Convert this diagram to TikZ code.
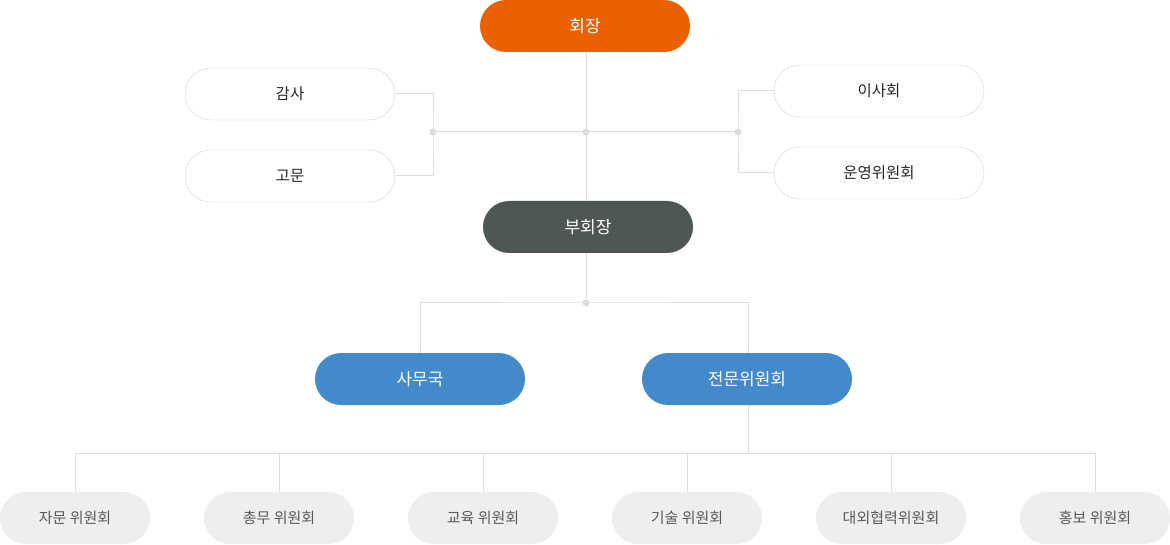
\documentclass[tikz,border=0pt]{standalone}
\usepackage{fontspec}
\setmainfont{Noto Sans CJK KR}
\usepackage{tikz}

\definecolor{chairorange}{HTML}{EB6100}
\definecolor{vicegray}{HTML}{4F5656}
\definecolor{teamblue}{HTML}{438ACB}
\definecolor{subgray}{HTML}{EEEEEE}
\definecolor{edgegray}{HTML}{D2D2D2}
\definecolor{linegray}{HTML}{DDDDDD}

\tikzset{
  box/.style={rounded corners=26pt, minimum width=210pt, minimum height=52pt, inner sep=0pt, font=\fontsize{17}{19}\selectfont},
  headbox/.style={box, fill=#1, text=white},
  sidebox/.style={box, draw=edgegray, fill=white, text=black!85, font=\fontsize{15.5}{18}\selectfont},
  subbox/.style={box, minimum width=150pt, fill=subgray, text=black!65, font=\fontsize{15}{17}\selectfont},
  link/.style={draw=linegray, line width=1pt},
  joint/.style={fill=linegray}
}

\begin{document}
\begin{tikzpicture}[x=1pt, y=-1pt]
            \useasboundingbox (0,0) rectangle (1170,545);

            % junctions
            \coordinate (jtop) at (586,132);
            \coordinate (jleft) at (433,132);
            \coordinate (jright) at (738,132);
            \coordinate (jmid) at (586,303);
            \coordinate (jlow) at (748,453);

            % nodes
            \node[headbox=chairorange] (chair) at (585,26) {회장};
            \node[sidebox] (audit) at (290,94) {감사};
            \node[sidebox] (advisor) at (290,176) {고문};
            \node[sidebox] (board) at (879,91) {이사회};
            \node[sidebox] (steering) at (879,173) {운영위원회};
            \node[headbox=vicegray] (vice) at (588,227) {부회장};
            \node[headbox=teamblue] (office) at (420,379) {사무국};
            \node[headbox=teamblue] (expert) at (747,379) {전문위원회};

            \node[subbox] (consult) at (75,518) {자문 위원회};
            \node[subbox] (general) at (279,518) {총무 위원회};
            \node[subbox] (education) at (483,518) {교육 위원회};
            \node[subbox] (technical) at (687,518) {기술 위원회};
            \node[subbox] (external) at (891,518) {대외협력위원회};
            \node[subbox] (promotion) at (1095,518) {홍보 위원회};

            % links
            \draw[link] (chair.south -| jtop) -- (vice.north -| jtop);
            \draw[link] (jleft) -- (jright);
            \draw[link] (audit.east) -| (jleft) |- (advisor.east);
            \draw[link] (board.west) -| (jright) |- (steering.west);

            \draw[link] (vice.south -| jmid) -- (jmid);
            \draw[link] (office.north) |- (jmid) -| (expert.north -| jlow);
            \draw[link] (expert.south -| jlow) -- (jlow);

            \draw[link] (consult.north) |- (jlow);
            \draw[link] (general.north) |- (jlow);
            \draw[link] (education.north) |- (jlow);
            \draw[link] (technical.north) |- (jlow);
            \draw[link] (external.north) |- (jlow);
            \draw[link] (promotion.north) |- (jlow);

            \fill[joint] (jtop) circle (3.5pt);
            \fill[joint] (jleft) circle (3.5pt);
            \fill[joint] (jright) circle (3.5pt);
            \fill[joint] (jmid) circle (3.5pt);

        \end{tikzpicture}
\end{document}
